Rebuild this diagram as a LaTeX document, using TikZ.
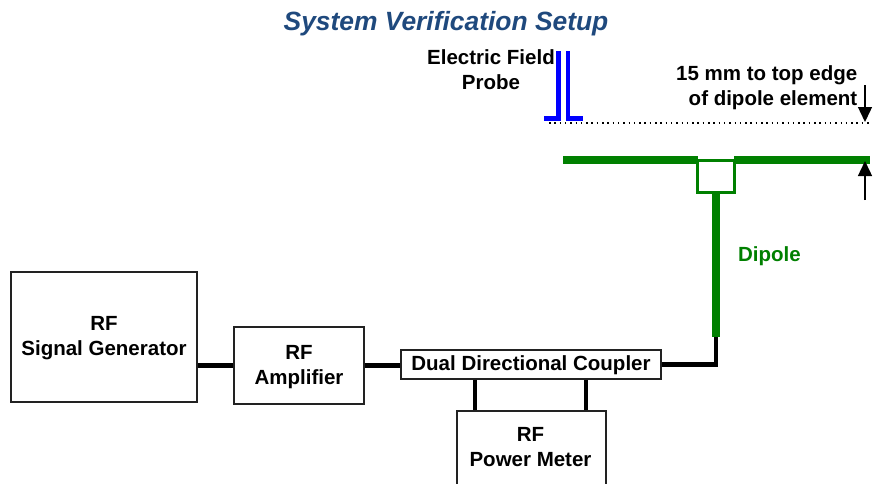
\documentclass[tikz,border=0pt]{standalone}
\usepackage{fontspec}
\setmainfont{Liberation Sans}
\usetikzlibrary{arrows.meta}
\definecolor{titleblue}{HTML}{1F497D}
\definecolor{dipgreen}{HTML}{008000}
\definecolor{probeblue}{HTML}{0000FF}
\definecolor{boxgray}{HTML}{222222}
\tikzset{
  blockbox/.style={draw=boxgray,line width=1.8pt,fill=white,inner sep=0pt},
  lbl/.style={inner sep=0pt,align=center,font=\fontsize{20.5}{25}\selectfont\bfseries},
  wire/.style={line width=4.6pt,black},
  green bar/.style={line width=8.6pt,dipgreen},
  probe bar/.style={line width=4.6pt,probeblue},
  dim/.style={line width=1.4pt,black,-{Triangle[length=15pt,width=14pt]}},
}
\begin{document}
\begin{tikzpicture}[x=1pt,y=-1pt]
\useasboundingbox (0,0) rectangle (873,483);
\node[inner sep=0pt,text=titleblue,font=\fontsize{26.4}{30}\selectfont\bfseries\itshape] (title) at (446,23.5) {System Verification Setup};
% blocks
\node[blockbox,minimum width=186pt,minimum height=130pt] (sg) at (104,337) {};
\node[lbl] (sgt) at (104,338.5) {RF\\Signal Generator};
\node[blockbox,minimum width=130pt,minimum height=77pt] (amp) at (299,365.5) {};
\node[lbl] (ampt) at (299,367.5) {RF\\Amplifier};
\node[blockbox,minimum width=260pt,minimum height=28.5pt] (ddc) at (531,364.5) {};
\node[lbl] (ddct) at (531,365) {Dual Directional Coupler};
\begin{scope}
\clip (0,0) rectangle (873,483);
\node[blockbox,minimum width=149pt,minimum height=90pt,anchor=north] (pm) at (531.5,410) {};
\end{scope}
\node[lbl] (pmt) at (530.5,447.5) {RF\\Power Meter};
% dipole
\node[draw=dipgreen,line width=2.6pt,minimum width=37pt,minimum height=32pt,inner sep=0pt] (feed) at (716,176.5) {};
\coordinate (dl) at (563,160);
\coordinate (dr) at (870,160);
\coordinate (fl) at (698,160);
\coordinate (fr) at (734,160);
\coordinate (dipend) at (716,337);
\coordinate (bend) at (716,364.5);
\draw[green bar] (dl) -- (fl);
\draw[green bar] (fr) -- (dr);
% wires
\draw[wire] (sg.east |- amp.west) -- (amp.west);
\draw[wire] (amp.east) -- (amp.east -| ddc.west);
\draw[wire,line join=miter] (ddc.east) -- (bend) -- (dipend);
\draw[wire] (ddc.south -| 475,0) -- (pm.north -| 475,0);
\draw[wire] (ddc.south -| 586,0) -- (pm.north -| 586,0);
\draw[line width=7.6pt,dipgreen] (feed.south) -- (dipend);
% probe
\coordinate (p1t) at (558.5,51);
\coordinate (p2t) at (568,51);
\coordinate (p1b) at (558.5,118.5);
\coordinate (p2b) at (568,118.5);
\coordinate (p1f) at (544,118.5);
\coordinate (p2f) at (583,118.5);
\draw[probe bar,line join=miter] (p1t) -- (p1b) -- (p1f);
\draw[probe bar,line join=miter] (p2t) -- (p2b) -- (p2f);
% dotted level
\coordinate (dota) at (549,123);
\coordinate (dotb) at (872,123);
\draw[line width=1.5pt,black,dash pattern=on 1.5pt off 3.8pt] (dota) -- (dotb);
% dimension arrows
\coordinate (a1s) at (865,85);
\coordinate (a1e) at (865,122);
\coordinate (a2s) at (865,200);
\coordinate (a2e) at (865,161);
\draw[dim] (a1s) -- (a1e);
\draw[dim] (a2s) -- (a2e);
% labels
\node[lbl] (probe) at (491,70) {Electric Field\\Probe};
\node[lbl,align=right,anchor=east] (gap) at (857.5,88) {15 mm to top edge\\of dipole element};
\node[lbl,text=dipgreen] (dip) at (769.5,256) {Dipole};
\end{tikzpicture}
\end{document}
